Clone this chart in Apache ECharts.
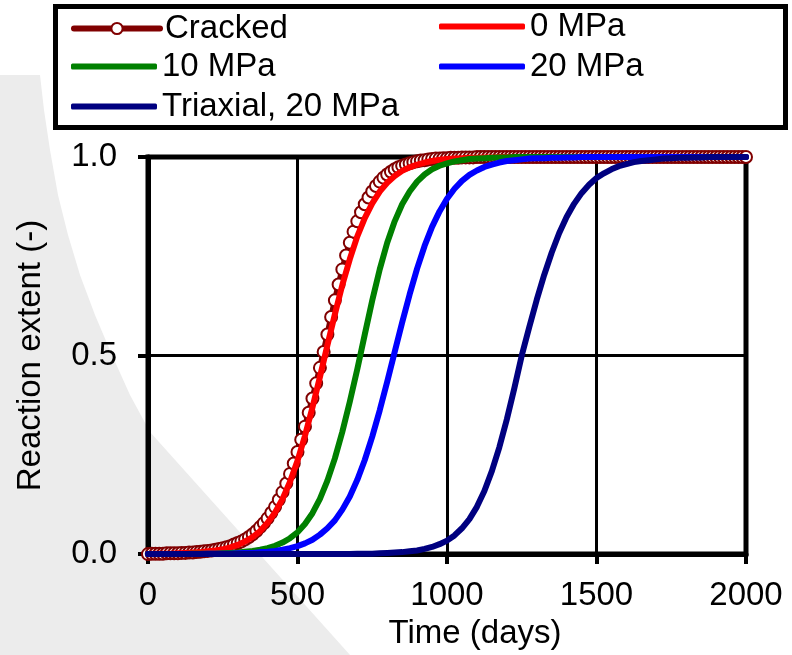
<!DOCTYPE html>
<html>
<head>
<meta charset="utf-8">
<script src="https://cdn.jsdelivr.net/npm/echarts@6/dist/echarts.min.js"></script>
<style>
  html, body { margin: 0; padding: 0; background: #fff; }
  #chart { width: 792px; height: 655px; }
</style>
</head>
<body>
<div id="chart"></div>
<script>
// Time grid (days) for the modelled curves, one sample every 25 days
const days = [
  0, 25, 50, 75, 100, 125, 150, 175, 200, 225, 250, 275, 300, 325, 350, 375, 400,
  425, 450, 475, 500, 525, 550, 575, 600, 625, 650, 675, 700, 725, 750, 775, 800,
  825, 850, 875, 900, 925, 950, 975, 1000, 1025, 1050, 1075, 1100, 1125, 1150, 1175, 1200,
  1225, 1250, 1275, 1300, 1325, 1350, 1375, 1400, 1425, 1450, 1475, 1500, 1525, 1550, 1575, 1600,
  1625, 1650, 1675, 1700, 1725, 1750, 1775, 1800, 1825, 1850, 1875, 1900, 1925, 1950, 1975, 2000
];

// Time grid (days) for the cracked case, one sample every 12.5 days
const crackedDays = [
  0, 12.5, 25, 37.5, 50, 62.5, 75, 87.5,
  100, 112.5, 125, 137.5, 150, 162.5, 175, 187.5,
  200, 212.5, 225, 237.5, 250, 262.5, 275, 287.5,
  300, 312.5, 325, 337.5, 350, 362.5, 375, 387.5,
  400, 412.5, 425, 437.5, 450, 462.5, 475, 487.5,
  500, 512.5, 525, 537.5, 550, 562.5, 575, 587.5,
  600, 612.5, 625, 637.5, 650, 662.5, 675, 687.5,
  700, 712.5, 725, 737.5, 750, 762.5, 775, 787.5,
  800, 812.5, 825, 837.5, 850, 862.5, 875, 887.5,
  900, 912.5, 925, 937.5, 950, 962.5, 975, 987.5,
  1000, 1012.5, 1025, 1037.5, 1050, 1062.5, 1075, 1087.5,
  1100, 1112.5, 1125, 1137.5, 1150, 1162.5, 1175, 1187.5,
  1200, 1212.5, 1225, 1237.5, 1250, 1262.5, 1275, 1287.5,
  1300, 1312.5, 1325, 1337.5, 1350, 1362.5, 1375, 1387.5,
  1400, 1412.5, 1425, 1437.5, 1450, 1462.5, 1475, 1487.5,
  1500, 1512.5, 1525, 1537.5, 1550, 1562.5, 1575, 1587.5,
  1600, 1612.5, 1625, 1637.5, 1650, 1662.5, 1675, 1687.5,
  1700, 1712.5, 1725, 1737.5, 1750, 1762.5, 1775, 1787.5,
  1800, 1812.5, 1825, 1837.5, 1850, 1862.5, 1875, 1887.5,
  1900, 1912.5, 1925, 1937.5, 1950, 1962.5, 1975, 1987.5,
  2000
];

// Reaction extent (-) for each case
const cracked = [
  0, 0.001, 0.001, 0.001, 0.001, 0.002, 0.002, 0.002,
  0.002, 0.003, 0.003, 0.004, 0.004, 0.005, 0.006, 0.007,
  0.008, 0.009, 0.011, 0.013, 0.015, 0.017, 0.020, 0.024,
  0.028, 0.032, 0.037, 0.043, 0.050, 0.058, 0.068, 0.078,
  0.090, 0.104, 0.119, 0.137, 0.156, 0.178, 0.202, 0.228,
  0.257, 0.288, 0.321, 0.356, 0.392, 0.430, 0.469, 0.509,
  0.553, 0.597, 0.639, 0.679, 0.717, 0.752, 0.784, 0.812,
  0.838, 0.861, 0.881, 0.898, 0.913, 0.927, 0.938, 0.948,
  0.956, 0.963, 0.969, 0.974, 0.978, 0.981, 0.984, 0.987,
  0.989, 0.991, 0.992, 0.994, 0.995, 0.996, 0.996, 0.997,
  0.997, 0.998, 0.998, 0.998, 0.999, 0.999, 0.999, 0.999,
  1, 1, 1, 1, 1, 1, 1, 1,
  1, 1, 1, 1, 1, 1, 1, 1,
  1, 1, 1, 1, 1, 1, 1, 1,
  1, 1, 1, 1, 1, 1, 1, 1,
  1, 1, 1, 1, 1, 1, 1, 1,
  1, 1, 1, 1, 1, 1, 1, 1,
  1, 1, 1, 1, 1, 1, 1, 1,
  1, 1, 1, 1, 1, 1, 1, 1,
  1, 1, 1, 1, 1, 1, 1, 1,
  1
];
const mpa0 = [
  0, 0.001, 0.001, 0.001, 0.002, 0.003, 0.004, 0.005, 0.007, 0.009, 0.012, 0.017, 0.023, 0.032, 0.043, 0.058, 0.079,
  0.105, 0.139, 0.182, 0.235, 0.298, 0.369, 0.446, 0.526, 0.604, 0.678, 0.743, 0.800, 0.846, 0.883, 0.913, 0.935,
  0.952, 0.965, 0.974, 0.981, 0.986, 0.990, 0.993, 0.995, 0.996, 0.997, 0.998, 0.998, 0.999, 0.999, 1, 1,
  1, 1, 1, 1, 1, 1, 1, 1, 1, 1, 1, 1, 1, 1, 1, 1,
  1, 1, 1, 1, 1, 1, 1, 1, 1, 1, 1, 1, 1, 1, 1, 1
];
const mpa10 = [
  0, 0, 0, 0, 0, 0, 0.001, 0.001, 0.001, 0.001, 0.002, 0.003, 0.004, 0.006, 0.008, 0.011, 0.015,
  0.021, 0.029, 0.040, 0.055, 0.076, 0.103, 0.139, 0.185, 0.241, 0.308, 0.384, 0.466, 0.553, 0.639, 0.717, 0.784,
  0.838, 0.881, 0.913, 0.938, 0.956, 0.969, 0.978, 0.984, 0.989, 0.992, 0.995, 0.996, 0.997, 0.998, 0.999, 0.999,
  1, 1, 1, 1, 1, 1, 1, 1, 1, 1, 1, 1, 1, 1, 1, 1,
  1, 1, 1, 1, 1, 1, 1, 1, 1, 1, 1, 1, 1, 1, 1, 1
];
const mpa20 = [
  0, 0, 0, 0, 0, 0, 0, 0, 0.001, 0.001, 0.001, 0.001, 0.002, 0.003, 0.003, 0.005, 0.006,
  0.008, 0.011, 0.015, 0.020, 0.027, 0.036, 0.049, 0.065, 0.085, 0.112, 0.145, 0.187, 0.237, 0.296, 0.362, 0.434,
  0.509, 0.583, 0.654, 0.719, 0.776, 0.824, 0.863, 0.895, 0.920, 0.940, 0.955, 0.966, 0.975, 0.981, 0.986, 0.990,
  0.992, 0.994, 0.996, 0.997, 0.997, 0.998, 0.998, 0.999, 0.999, 1, 1, 1, 1, 1, 1, 1,
  1, 1, 1, 1, 1, 1, 1, 1, 1, 1, 1, 1, 1, 1, 1, 1
];
const triaxial20 = [
  0, 0, 0, 0, 0, 0, 0, 0, 0, 0, 0, 0, 0, 0, 0, 0, 0,
  0, 0, 0, 0, 0, 0, 0, 0, 0, 0, 0, 0.001, 0.001, 0.001, 0.002, 0.003,
  0.004, 0.005, 0.007, 0.009, 0.013, 0.018, 0.025, 0.034, 0.047, 0.065, 0.088, 0.119, 0.159, 0.209, 0.269, 0.339,
  0.417, 0.500, 0.571, 0.640, 0.703, 0.759, 0.808, 0.849, 0.882, 0.909, 0.930, 0.947, 0.959, 0.969, 0.977, 0.982,
  0.987, 0.990, 0.992, 0.994, 0.996, 0.997, 0.998, 0.998, 0.999, 0.999, 1, 1, 1, 1, 1, 1
];

const xTicks = [0, 500, 1000, 1500, 2000];
const yTicks = [0.0, 0.5, 1.0];

const FONT = "'Liberation Sans', Arial, Helvetica, sans-serif";
const pairs = (xs, vals) => xs.map((d, i) => [d, vals[i]]);

const chart = echarts.init(document.getElementById('chart'), null, { renderer: 'canvas' });

// plain curves sit above the marked cracked curve
const lineSeries = (name, vals, color, width) => ({
  name: name,
  type: 'line',
  z: 3,
  data: pairs(days, vals),
  symbol: 'none',
  clip: false,
  silent: true,
  lineStyle: { color: color, width: width, cap: 'round', join: 'round' },
  itemStyle: { color: color },
  animation: false
});

const legendText = { fontSize: 33, color: '#000', fontFamily: FONT };

const option = {
  backgroundColor: '#ffffff',
  animation: false,
  graphic: [
    // soft grey backdrop sweeping in from the left
    {
      type: 'polygon', z: -10, silent: true,
      shape: { points: [[0, 75], [40, 75], [44, 110], [50, 150], [58, 195], [68, 235], [80, 275], [95, 315],
                        [112, 355], [130, 395], [150, 432], [350, 655], [0, 655]] },
      style: { fill: '#ececec' }
    },
    // legend frame
    {
      type: 'rect', z: 3, silent: true,
      shape: { x: 55.5, y: 6.5, width: 730, height: 121 },
      style: { fill: '#ffffff', stroke: '#000000', lineWidth: 5 }
    }
  ],
  legend: [
    {
      data: ['Cracked'],
      orient: 'vertical', left: 71, top: 12, padding: 0,
      itemWidth: 86, itemHeight: 14, itemGap: 7,
      selectedMode: false,
      textStyle: legendText,
      lineStyle: { width: 6, cap: 'round' }
    },
    {
      data: [{ name: '10 MPa', icon: 'roundRect' }, { name: 'Triaxial, 20 MPa', icon: 'roundRect' }],
      orient: 'vertical', left: 71, top: 50, padding: 0,
      itemWidth: 86, itemHeight: 6, itemGap: 7,
      selectedMode: false,
      textStyle: legendText
    },
    {
      data: [{ name: '0 MPa', icon: 'roundRect' }, { name: '20 MPa', icon: 'roundRect' }],
      orient: 'vertical', left: 439, top: 10, padding: 0,
      itemWidth: 86, itemHeight: 6, itemGap: 7,
      selectedMode: false,
      textStyle: legendText
    }
  ],
  grid: {
    left: 148, right: 46, top: 157, bottom: 98,
    show: true, borderColor: '#000', borderWidth: 5, backgroundColor: 'transparent',
    containLabel: false
  },
  xAxis: {
    type: 'value', min: xTicks[0], max: xTicks[xTicks.length - 1], interval: 500,
    name: 'Time (days)', nameLocation: 'middle', nameGap: 55,
    nameTextStyle: { fontSize: 33, color: '#000', fontFamily: FONT, padding: [0, 0, 0, 56] },
    axisLine: { show: true, onZero: false, lineStyle: { color: '#000', width: 5 } },
    axisTick: { show: true, length: 10, lineStyle: { color: '#000', width: 4 } },
    axisLabel: { fontSize: 33, color: '#000', fontFamily: FONT, margin: 25, formatter: (v) => String(v) },
    splitLine: { show: true, lineStyle: { color: '#000', width: 3 } }
  },
  yAxis: {
    type: 'value', min: yTicks[0], max: yTicks[yTicks.length - 1], interval: 0.5,
    name: 'Reaction extent (-)', nameLocation: 'middle', nameGap: 101,
    nameTextStyle: { fontSize: 33, color: '#000', fontFamily: FONT },
    axisLine: { show: true, onZero: false, lineStyle: { color: '#000', width: 5 } },
    axisTick: { show: true, length: 10, lineStyle: { color: '#000', width: 4 } },
    axisLabel: { fontSize: 33, color: '#000', fontFamily: FONT, margin: 31, formatter: (v) => v.toFixed(1) },
    splitLine: { show: true, lineStyle: { color: '#000', width: 3 } }
  },
  series: [
    {
      name: 'Cracked',
      type: 'line',
      z: 2,
      data: pairs(crackedDays, cracked),
      symbol: 'emptyCircle',
      symbolSize: 12,
      showAllSymbol: true,
      clip: false,
      silent: true,
      lineStyle: { color: '#800000', width: 6, cap: 'round' },
      itemStyle: { color: '#800000', borderColor: '#800000', borderWidth: 2.5 },
      animation: false
    },
    lineSeries('0 MPa', mpa0, '#ff0000', 6),
    lineSeries('10 MPa', mpa10, '#008000', 6),
    lineSeries('20 MPa', mpa20, '#0000ff', 6),
    lineSeries('Triaxial, 20 MPa', triaxial20, '#000080', 6)
  ]
};

chart.setOption(option);
</script>
</body>
</html>
